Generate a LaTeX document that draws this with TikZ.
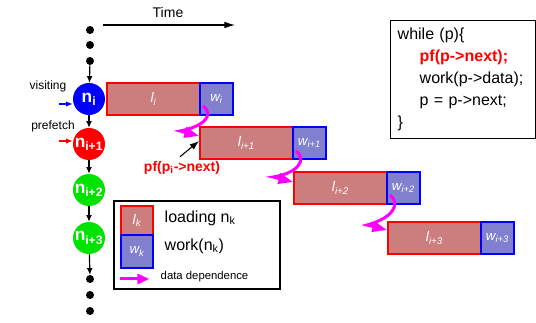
\documentclass[tikz,border=0pt]{standalone}
\usepackage{fontspec}
\setmainfont{Liberation Sans}
\setsansfont{Liberation Sans}
\usetikzlibrary{arrows.meta, positioning, calc}

\definecolor{loadred}{RGB}{204,126,126}
\definecolor{workblue}{RGB}{128,128,206}
\definecolor{depmag}{RGB}{255,0,255}
\definecolor{listgreen}{RGB}{0,226,0}

\tikzset{
  listnode/.style={circle, minimum size=24pt, inner sep=0pt, text=white,
    font=\fontsize{13}{13}\selectfont\bfseries},
  chaindot/.style={circle, fill=black, minimum size=6pt, inner sep=0pt},
  loadbox/.style={draw=red, line width=1.5pt, fill=loadred, minimum width=69.75pt,
    minimum height=24pt, inner sep=0pt, outer sep=0pt, text=white,
    font=\fontsize{10.5}{10.5}\selectfont\itshape},
  workbox/.style={draw=blue, line width=1.5pt, fill=workblue, minimum width=24.75pt,
    minimum height=24pt, inner sep=0pt, outer sep=0pt, text=white,
    font=\fontsize{10}{10}\selectfont\itshape},
  nextptr/.style={-{Latex[length=5pt,width=4.5pt]}, line width=0.9pt},
  depend/.style={depmag, line width=2.25pt, -{Triangle[length=11pt,width=8pt]}},
}

\begin{document}
\begin{tikzpicture}[x=0.75pt, y=-0.75pt]
\useasboundingbox (0,0) rectangle (536,323);

% Time axis
\coordinate (t0) at (103,25);
\coordinate (t1) at (235,25);
\draw[-{Latex[length=8pt,width=5pt]}, line width=0.8pt] (t0) -- (t1);
\node[font=\fontsize{10.5}{12}\selectfont] (time) at (168,13) {Time};

% Linked list
\node[chaindot] (dot1) at (90,30) {};
\node[chaindot] (dot2) at (90,45) {};
\node[chaindot] (dot3) at (90,61) {};
\node[listnode, fill=blue] (n1) at (89,99) {n\textsubscript{i}};
\node[listnode, fill=red] (n2) at (89,144) {n\textsubscript{i+1}};
\node[listnode, fill=listgreen] (n3) at (89,190) {n\textsubscript{i+2}};
\node[listnode, fill=listgreen] (n4) at (89,238) {n\textsubscript{i+3}};
\node[chaindot] (dot4) at (90,279) {};
\node[chaindot] (dot5) at (90,295) {};
\node[chaindot] (dot6) at (90,311) {};
\draw[nextptr] (dot3) -- (n1);
\draw[nextptr] (n1) -- (n2);
\draw[nextptr] (n2) -- (n3);
\draw[nextptr] (n3) -- (n4);
\draw[nextptr] (n4) -- (dot4);

% Pointers
\node[font=\fontsize{9}{10}\selectfont] (visit) at (48,86) {visiting};
\node[font=\fontsize{9}{10}\selectfont] (prefetch) at (53,126) {prefetch};
\coordinate (vin) at (59,104);
\coordinate (pin) at (59,141);
\draw[-{Latex[length=5pt,width=4pt]}, blue, line width=0.9pt] (vin) -- (vin -| n1.west);
\draw[-{Latex[length=5pt,width=4pt]}, red, line width=0.9pt] (pin) -- (pin -| n2.west);

% Load and work per iteration
\node[loadbox, anchor=north west] (load1) at (107,83) {l\textsubscript{i}};
\node[workbox, right=0pt of load1] (work1) {w\textsubscript{i}};
\node[loadbox, anchor=north west] (load2) at (200,127) {l\textsubscript{i+1}};
\node[workbox, right=0pt of load2] (work2) {w\textsubscript{i+1}};
\node[loadbox, anchor=north west] (load3) at (294,172) {l\textsubscript{i+2}};
\node[workbox, right=0pt of load3] (work3) {w\textsubscript{i+2}};
\node[loadbox, anchor=north west] (load4) at (388,222) {l\textsubscript{i+3}};
\node[workbox, right=0pt of load4] (work4) {w\textsubscript{i+3}};

% Data dependences
\draw[depend] ($(work1.south west)+(3,-9)$) .. controls ($(work1.south west)+(14,-1)$) and ($(work1.south west)+(6,11)$) .. ($(load2.north west)+(-20,4)$) -- ($(load2.north west)+(-1,9)$);
\draw[depend] ($(work2.south west)+(3,-8)$) .. controls ($(work2.south west)+(14,0)$) and ($(work2.south west)+(6,14)$) .. ($(load3.north west)+(-21,5)$) -- ($(load3.north west)+(-1,10)$);
\draw[depend] ($(work3.south west)+(3,-9)$) .. controls ($(work3.south west)+(14,0)$) and ($(work3.south west)+(6,14)$) .. ($(load4.north west)+(-21,3)$) -- ($(load4.north west)+(-1,8)$);

% Prefetch issue
\node[text=red, font=\fontsize{10.5}{12}\selectfont\bfseries] (pf) at (182,168) {pf(p\textsubscript{i}->next)};
\draw[-{Latex[length=7pt,width=5pt]}, line width=0.8pt] ($(pf.north)+(-2,0)$) -- ($(load2.west)+(-1,-2)$);

% Legend
\draw[line width=1.1pt] (114,201) rectangle (280,289);
\node[loadbox, minimum width=24pt, minimum height=21.75pt, anchor=north west] (keyload) at (121,206) {l\textsubscript{k}};
\node[workbox, minimum width=24pt, minimum height=24.75pt, below=0pt of keyload] (keywork) {w\textsubscript{k}};
\node[anchor=west, font=\fontsize{12}{12}\selectfont] (keyloadtxt) at (160,218) {loading n\textsubscript{k}};
\node[anchor=west, font=\fontsize{12}{12}\selectfont] (keyworktxt) at (160,246) {work(n\textsubscript{k})};
\node[anchor=west, font=\fontsize{8.5}{10}\selectfont] (keydeptxt) at (156,277) {data dependence};
\coordinate (keyarr) at (120,279);
\draw[depend, shorten >=5pt, -{Triangle[length=9pt,width=7.5pt]}] (keyarr) -- (keyarr -| keydeptxt.west);

% Loop code
\node[draw, line width=0.8pt, anchor=north west, minimum width=108.75pt, minimum height=88.5pt,
  text width=98pt, align=left, inner xsep=5.25pt, font=\fontsize{12}{16.5}\selectfont] (code) at (390,20)
  {while (p)\{\\
   \hspace*{16.5pt}{\color{red}\bfseries pf(p->next);}\\
   \hspace*{16.5pt}work(p->data);\\
   \hspace*{16.5pt}p = p->next;\\
   \}};
\end{tikzpicture}
\end{document}
